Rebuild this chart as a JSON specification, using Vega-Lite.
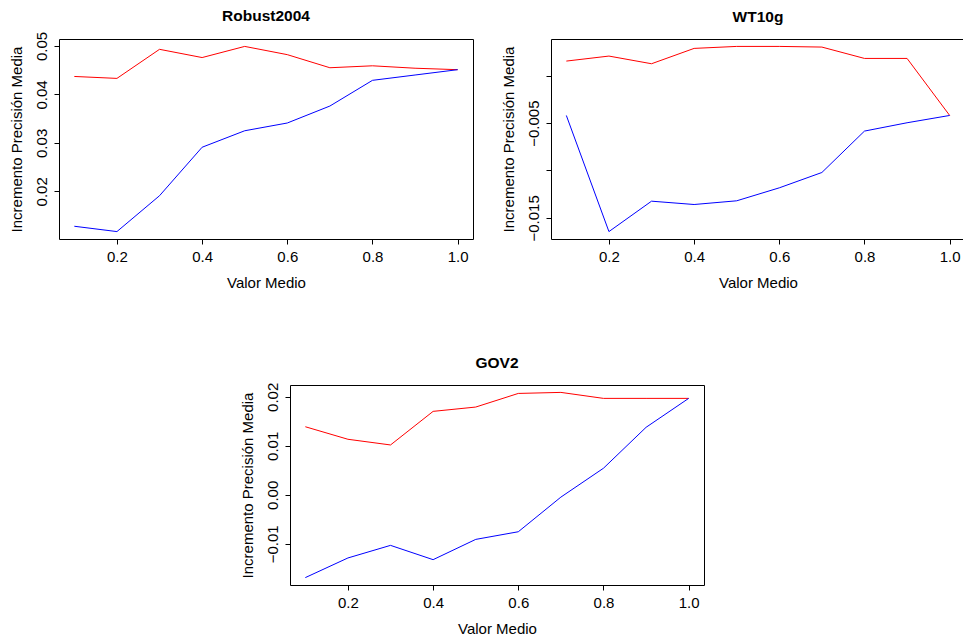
{
  "$schema": "https://vega.github.io/schema/vega-lite/v6.json",
  "background": "white",
  "padding": {"left": 8, "top": 8, "right": 0, "bottom": 5},
  "datasets": {
    "robust": [
      {"serie": "roja", "valor": 0.1, "incremento": 0.0437},
      {"serie": "roja", "valor": 0.2, "incremento": 0.0433},
      {"serie": "roja", "valor": 0.3, "incremento": 0.0493},
      {"serie": "roja", "valor": 0.4, "incremento": 0.0476},
      {"serie": "roja", "valor": 0.5, "incremento": 0.0499},
      {"serie": "roja", "valor": 0.6, "incremento": 0.0482},
      {"serie": "roja", "valor": 0.7, "incremento": 0.0455},
      {"serie": "roja", "valor": 0.8, "incremento": 0.0459},
      {"serie": "roja", "valor": 0.9, "incremento": 0.0454},
      {"serie": "roja", "valor": 1.0, "incremento": 0.0451},
      {"serie": "azul", "valor": 0.1, "incremento": 0.0128},
      {"serie": "azul", "valor": 0.2, "incremento": 0.0117},
      {"serie": "azul", "valor": 0.3, "incremento": 0.0191},
      {"serie": "azul", "valor": 0.4, "incremento": 0.0291},
      {"serie": "azul", "valor": 0.5, "incremento": 0.0325},
      {"serie": "azul", "valor": 0.6, "incremento": 0.0341},
      {"serie": "azul", "valor": 0.7, "incremento": 0.0376},
      {"serie": "azul", "valor": 0.8, "incremento": 0.0429},
      {"serie": "azul", "valor": 0.9, "incremento": 0.0440},
      {"serie": "azul", "valor": 1.0, "incremento": 0.0451}
    ],
    "wt10g": [
      {"serie": "roja", "valor": 0.1, "incremento": 0.00155},
      {"serie": "roja", "valor": 0.2, "incremento": 0.00208},
      {"serie": "roja", "valor": 0.3, "incremento": 0.00127},
      {"serie": "roja", "valor": 0.4, "incremento": 0.00289},
      {"serie": "roja", "valor": 0.5, "incremento": 0.0031},
      {"serie": "roja", "valor": 0.6, "incremento": 0.0031},
      {"serie": "roja", "valor": 0.7, "incremento": 0.00303},
      {"serie": "roja", "valor": 0.8, "incremento": 0.00183},
      {"serie": "roja", "valor": 0.9, "incremento": 0.00183},
      {"serie": "roja", "valor": 1.0, "incremento": -0.00419},
      {"serie": "azul", "valor": 0.1, "incremento": -0.00419},
      {"serie": "azul", "valor": 0.2, "incremento": -0.01645},
      {"serie": "azul", "valor": 0.3, "incremento": -0.01324},
      {"serie": "azul", "valor": 0.4, "incremento": -0.01359},
      {"serie": "azul", "valor": 0.5, "incremento": -0.0132},
      {"serie": "azul", "valor": 0.6, "incremento": -0.01183},
      {"serie": "azul", "valor": 0.7, "incremento": -0.01021},
      {"serie": "azul", "valor": 0.8, "incremento": -0.00584},
      {"serie": "azul", "valor": 0.9, "incremento": -0.00496},
      {"serie": "azul", "valor": 1.0, "incremento": -0.00419}
    ],
    "gov2": [
      {"serie": "roja", "valor": 0.1, "incremento": 0.0139},
      {"serie": "roja", "valor": 0.2, "incremento": 0.01134},
      {"serie": "roja", "valor": 0.3, "incremento": 0.01018},
      {"serie": "roja", "valor": 0.4, "incremento": 0.01704},
      {"serie": "roja", "valor": 0.5, "incremento": 0.01792},
      {"serie": "roja", "valor": 0.6, "incremento": 0.0207},
      {"serie": "roja", "valor": 0.7, "incremento": 0.02091},
      {"serie": "roja", "valor": 0.8, "incremento": 0.01969},
      {"serie": "roja", "valor": 0.9, "incremento": 0.01969},
      {"serie": "roja", "valor": 1.0, "incremento": 0.01969},
      {"serie": "azul", "valor": 0.1, "incremento": -0.0169},
      {"serie": "azul", "valor": 0.2, "incremento": -0.01289},
      {"serie": "azul", "valor": 0.3, "incremento": -0.01032},
      {"serie": "azul", "valor": 0.4, "incremento": -0.01324},
      {"serie": "azul", "valor": 0.5, "incremento": -0.0091},
      {"serie": "azul", "valor": 0.6, "incremento": -0.00754},
      {"serie": "azul", "valor": 0.7, "incremento": -0.00047},
      {"serie": "azul", "valor": 0.8, "incremento": 0.00543},
      {"serie": "azul", "valor": 0.9, "incremento": 0.01378},
      {"serie": "azul", "valor": 1.0, "incremento": 0.01969}
    ],
    "vacio": [{"k": 0}]
  },
  "config": {
    "font": "Liberation Sans",
    "view": {"stroke": "black", "strokeWidth": 1},
    "axis": {
      "grid": false,
      "domain": false,
      "tickColor": "black",
      "tickSize": 5,
      "tickWidth": 1,
      "labelColor": "black",
      "labelFontSize": 15,
      "labelFont": "Liberation Sans",
      "titleColor": "black",
      "titleFontSize": 15,
      "titleFont": "Liberation Sans",
      "titleFontWeight": "normal",
      "labelOverlap": false,
      "labelFlush": false
    },
    "axisX": {
      "labelBaseline": "alphabetic",
      "labelPadding": 17,
      "titleBaseline": "alphabetic",
      "titleY": 48,
      "titleX": 207,
      "titleAnchor": "middle"
    },
    "axisY": {
      "labelAngle": -90,
      "labelAlign": "center",
      "labelBaseline": "alphabetic",
      "labelPadding": 8,
      "titleAngle": -90,
      "titleBaseline": "alphabetic",
      "titleAlign": "center",
      "titleX": -38,
      "titleY": 100
    },
    "title": {
      "anchor": "middle",
      "frame": "group",
      "baseline": "alphabetic",
      "fontSize": 15.5,
      "fontWeight": "bold",
      "color": "black",
      "font": "Liberation Sans"
    },
    "line": {"strokeWidth": 1}
  },
  "bounds": "flush",
  "spacing": 346,
  "vconcat": [
    {
      "bounds": "flush",
      "spacing": 78,
      "hconcat": [
        {
          "title": {"text": "Robust2004", "offset": 7},
          "width": 414,
          "height": 200,
          "data": {"name": "robust"},
          "mark": {"type": "line", "strokeWidth": 1},
          "encoding": {
            "x": {"field": "valor", "type": "quantitative", "title": "Valor Medio",
                  "scale": {"domain": [0.064, 1.036], "nice": false, "zero": false},
                  "axis": {"values": [0.2, 0.4, 0.6, 0.8, 1.0], "format": ".1f"}},
            "y": {"field": "incremento", "type": "quantitative", "title": "Incremento Precisión Media",
                  "scale": {"domain": [0.010172, 0.051428], "nice": false, "zero": false},
                  "axis": {"values": [0.02, 0.03, 0.04, 0.05], "format": ".2f"}},
            "color": {"field": "serie", "type": "nominal",
                      "scale": {"domain": ["roja", "azul"], "range": ["#FF0000", "#0000FF"]}, "legend": null}
          }
        },
        {
          "title": {"text": "WT10g", "offset": 14},
          "width": 414,
          "height": 200,
          "data": {"name": "wt10g"},
          "mark": {"type": "line", "strokeWidth": 1},
          "encoding": {
            "x": {"field": "valor", "type": "quantitative", "title": "Valor Medio",
                  "scale": {"domain": [0.064, 1.036], "nice": false, "zero": false},
                  "axis": {"values": [0.2, 0.4, 0.6, 0.8, 1.0], "format": ".1f"}},
            "y": {"field": "incremento", "type": "quantitative", "title": "Incremento Precisión Media",
                  "scale": {"domain": [-0.017232, 0.003882], "nice": false, "zero": false},
                  "axis": {"values": [-0.015, -0.01, -0.005, 0],
                           "labelExpr": "abs(datum.value + 0.005) < 0.0001 || abs(datum.value + 0.015) < 0.0001 ? format(datum.value, '.3f') : ''"}},
            "color": {"field": "serie", "type": "nominal",
                      "scale": {"domain": ["roja", "azul"], "range": ["#FF0000", "#0000FF"]}, "legend": null}
          }
        }
      ]
    },
    {
      "bounds": "flush",
      "spacing": 0,
      "hconcat": [
        {
          "width": 231,
          "height": 200,
          "view": {"stroke": null},
          "data": {"name": "vacio"},
          "mark": {"type": "point", "opacity": 0},
          "encoding": {}
        },
        {
          "title": {"text": "GOV2", "offset": 11},
          "width": 414,
          "height": 200,
          "data": {"name": "gov2"},
          "mark": {"type": "line", "strokeWidth": 1},
          "encoding": {
            "x": {"field": "valor", "type": "quantitative", "title": "Valor Medio",
                  "scale": {"domain": [0.064, 1.036], "nice": false, "zero": false},
                  "axis": {"values": [0.2, 0.4, 0.6, 0.8, 1.0], "format": ".1f"}},
            "y": {"field": "incremento", "type": "quantitative", "title": "Incremento Precisión Media",
                  "scale": {"domain": [-0.018412, 0.022422], "nice": false, "zero": false},
                  "axis": {"values": [-0.01, 0, 0.01, 0.02], "format": ".2f"}},
            "color": {"field": "serie", "type": "nominal",
                      "scale": {"domain": ["roja", "azul"], "range": ["#FF0000", "#0000FF"]}, "legend": null}
          }
        }
      ]
    }
  ]
}
